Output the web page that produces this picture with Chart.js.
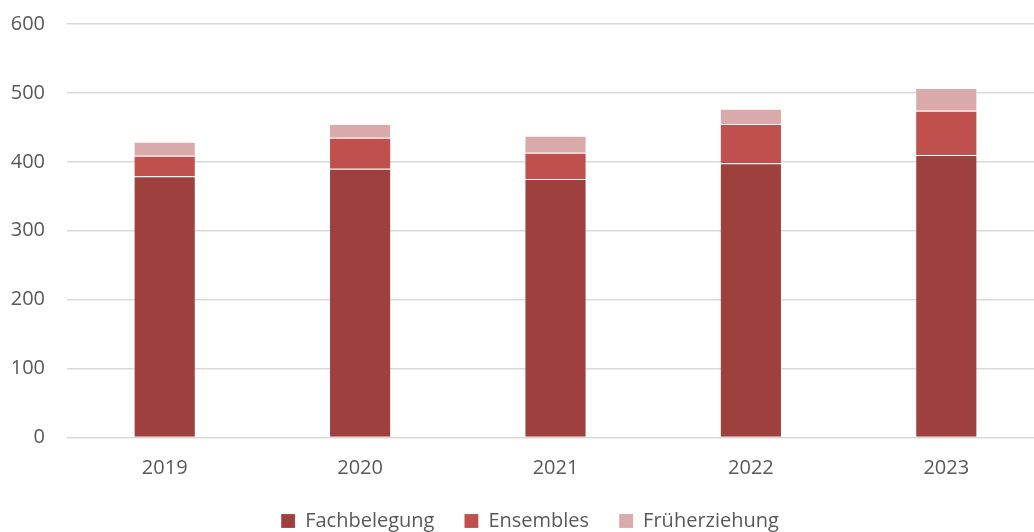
<!DOCTYPE html>
<html>
<head>
<meta charset="utf-8">
<script src="https://cdn.jsdelivr.net/npm/chart.js@4"></script>
<style>
  html, body { margin: 0; padding: 0; background: #fff; overflow: hidden; }
  #wrap { width: 1034px; height: 532px; overflow: hidden; }
  #chart { margin-top: -10px; display: block; }
</style>
</head>
<body>
<div id="wrap"><canvas id="chart" width="1044" height="551"></canvas></div>
<script>
// Daten
const years = ["2019", "2020", "2021", "2022", "2023"];
const fachbelegung = [379, 390, 375, 398, 410];
const ensembles = [30, 45, 38, 57, 64];
const frueherziehung = [20, 20, 25, 22, 33];
const yTicks = [0, 100, 200, 300, 400, 500, 600];

const fontFamily = "'Open Sans', 'Noto Sans', sans-serif";
const textColor = "#595959";
const gridColor = "#d9d9d9";

// Legende etwas nach rechts schieben
const legendShift = {
  id: "legendShift",
  afterLayout(chart) {
    chart.legend.left += 16;
  }
};

const ctx = document.getElementById("chart").getContext("2d");
new Chart(ctx, {
  type: "bar",
  data: {
    labels: years,
    datasets: [
      { label: "Fachbelegung", data: fachbelegung, backgroundColor: "#9e413e" },
      { label: "Ensembles", data: ensembles, backgroundColor: "#c0504d" },
      { label: "Früherziehung", data: frueherziehung, backgroundColor: "#d9aaa9" }
    ].map(ds => Object.assign(ds, {
      borderColor: "rgba(255,255,255,0.15)",
      borderWidth: 1,
      barPercentage: 0.318,
      categoryPercentage: 1
    }))
  },
  options: {
    responsive: false,
    animation: false,
    layout: { padding: 0 },
    plugins: {
      tooltip: { enabled: false },
      legend: {
        position: "bottom",
        labels: {
          color: textColor,
          font: { family: fontFamily, size: 20 },
          boxWidth: 14,
          boxHeight: 14,
          padding: 30
        }
      }
    },
    scales: {
      x: {
        stacked: true,
        grid: { display: false },
        border: { display: false },
        ticks: { color: textColor, font: { family: fontFamily, size: 20 }, padding: 11 },
        afterFit: scale => { scale.height = 43.5; }
      },
      y: {
        stacked: true,
        min: 0,
        max: 600,
        afterBuildTicks: scale => { scale.ticks = yTicks.map(v => ({ value: v })); },
        grid: { color: gridColor, lineWidth: 1.5, drawTicks: false },
        border: { display: false },
        ticks: { color: textColor, font: { family: fontFamily, size: 20 }, padding: 22 },
        afterFit: scale => { scale.width = 67; }
      }
    }
  },
  plugins: [legendShift]
});
</script>
</body>
</html>
